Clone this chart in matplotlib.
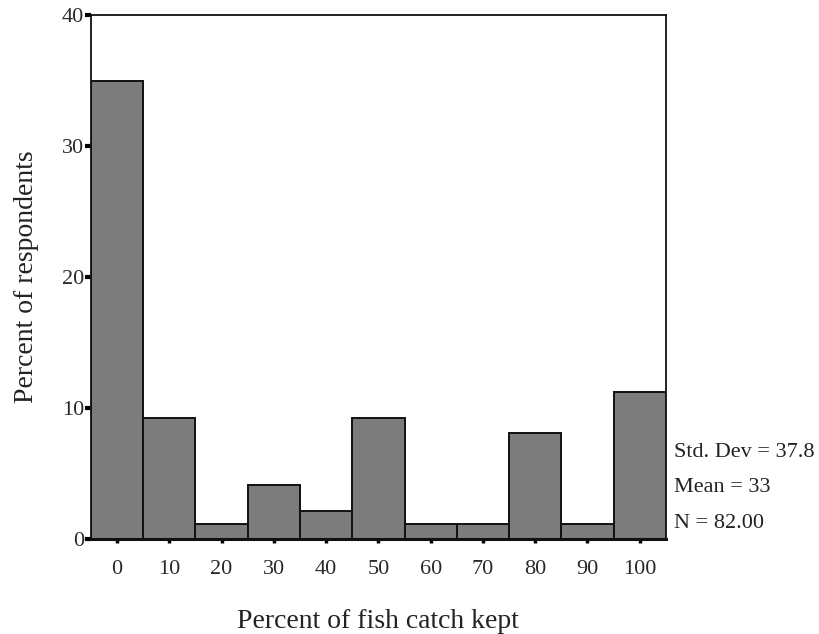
import numpy as np
import matplotlib.pyplot as plt

# Histogram of percent of fish catch kept (bins of 10, centred on the labels)
bin_centres = [0, 10, 20, 30, 40, 50, 60, 70, 80, 90, 100]
percent = [35.0, 9.2, 1.1, 4.1, 2.1, 9.2, 1.1, 1.1, 8.1, 1.1, 11.2]
y_ticks = [0, 10, 20, 30, 40]
stats = ["Std. Dev = 37.8", "Mean = 33", "N = 82.00"]

plt.rcParams["font.family"] = ["Liberation Serif", "DejaVu Serif"]

fig = plt.figure(figsize=(8.19, 6.34), dpi=100)
ax = fig.add_axes([0.111, 0.150, 0.702, 0.826])

ax.bar(bin_centres, percent, width=10, color="#7c7c7c",
       edgecolor="#111111", linewidth=1.4)

ax.set_xlim(-5, 105)
ax.set_ylim(0, 40)
ax.set_xticks(bin_centres)
ax.set_yticks(y_ticks)
ax.tick_params(axis="y", length=4, width=3, pad=1, labelsize=16,
               labelcolor="#2a2a2a")
ax.tick_params(axis="x", length=3, width=2.5, pad=12, labelsize=16,
               labelcolor="#2a2a2a")
for s in ax.spines.values():
    s.set_linewidth(1.3)
    s.set_color("#111111")
ax.spines["bottom"].set_linewidth(2.2)

ax.set_xlabel("Percent of fish catch kept", fontsize=20, labelpad=22,
              color="#222222")
ax.set_ylabel("Percent of respondents", fontsize=20, labelpad=16,
              color="#222222")

for i, txt in enumerate(stats):
    fig.text(0.823, 0.287 - i * 0.056, txt, fontsize=16, color="#222222",
             va="center", ha="left")

fig.savefig("out.png", dpi=100)
